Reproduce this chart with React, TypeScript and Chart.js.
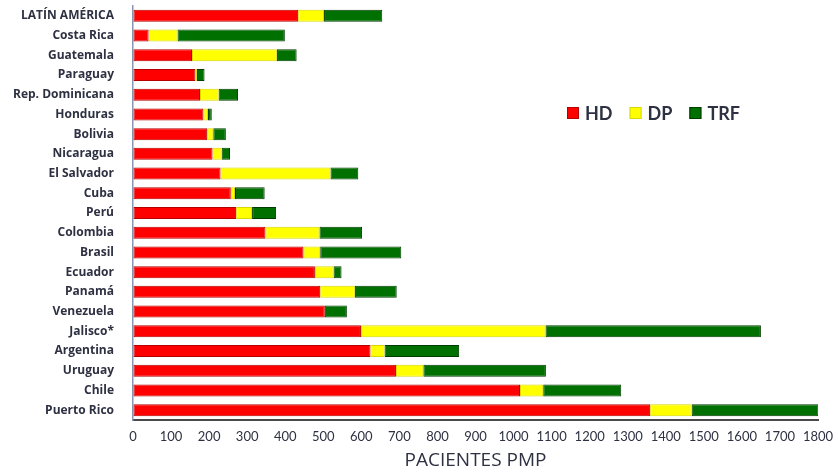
import React, { useEffect, useRef } from "react";
import { Chart, registerables } from "chart.js";

Chart.register(...registerables);

const countries = [
  "LATÍN AMÉRICA",
  "Costa Rica",
  "Guatemala",
  "Paraguay",
  "Rep. Dominicana",
  "Honduras",
  "Bolivia",
  "Nicaragua",
  "El Salvador",
  "Cuba",
  "Perú",
  "Colombia",
  "Brasil",
  "Ecuador",
  "Panamá",
  "Venezuela",
  "Jalisco*",
  "Argentina",
  "Uruguay",
  "Chile",
  "Puerto Rico",
];

// Hemodiálisis, diálisis peritoneal y trasplante renal funcionante (pacientes por millón)
const hdValues = [434, 41, 155, 164, 176, 185, 195, 209, 230, 257, 271, 348, 448, 478, 492, 504, 599, 624, 691, 1017, 1359];
const dpValues = [68, 76, 223, 4, 49, 12, 16, 24, 289, 11, 42, 142, 44, 49, 91, 0, 485, 37, 72, 61, 109];
const trfValues = [153, 282, 52, 20, 51, 10, 33, 22, 73, 78, 63, 112, 213, 21, 110, 58, 566, 196, 322, 205, 333];

const seriesNames = ["HD", "DP", "TRF"];
const xTicks = [0, 100, 200, 300, 400, 500, 600, 700, 800, 900, 1000, 1100, 1200, 1300, 1400, 1500, 1600, 1700, 1800];
const axisTitle = "PACIENTES PMP";

const textColor = "#2e3142";

// Legend drawn inside the plot, to the right of the short bars
const floatingLegend = {
  id: "floatingLegend",
  afterDraw(chart: any) {
    const ctx = chart.ctx;
    const y = 113;
    let x = 567;
    ctx.save();
    ctx.font = "bold 18px Lato";
    ctx.textBaseline = "middle";
    ctx.textAlign = "left";
    chart.data.datasets.forEach((ds: any) => {
      ctx.fillStyle = ds.backgroundColor;
      ctx.strokeStyle = ds.borderColor;
      ctx.lineWidth = 1;
      ctx.fillRect(x, y - 6, 12, 12);
      ctx.strokeRect(x + 0.5, y - 5.5, 11, 11);
      x += 18;
      ctx.fillStyle = textColor;
      ctx.fillText(ds.label, x, y + 1);
      x += ctx.measureText(ds.label).width + 17;
    });
    ctx.restore();
  },
};

export default function App() {
  const canvasRef = useRef<HTMLCanvasElement | null>(null);

  useEffect(() => {
    if (!canvasRef.current) return;
    const makeSet = (label: string, data: number[], bg: string, border: string) => ({
      label,
      data,
      backgroundColor: bg,
      borderColor: border,
      borderWidth: 1,
      borderSkipped: false,
      categoryPercentage: 1,
      barPercentage: 0.61,
    });
    const chart = new Chart(canvasRef.current, {
      type: "bar",
      data: {
        labels: countries,
        datasets: [
          makeSet(seriesNames[0], hdValues, "#ff0000", "#b40000"),
          makeSet(seriesNames[1], dpValues, "#ffff00", "#d8d800"),
          makeSet(seriesNames[2], trfValues, "#007000", "#003c00"),
        ],
      },
      options: {
        indexAxis: "y",
        animation: false,
        responsive: false,
        maintainAspectRatio: false,
        layout: { padding: { top: 6, right: 21, left: 0, bottom: 0 } },
        plugins: {
          legend: { display: false },
          tooltip: { enabled: false },
        },
        scales: {
          x: {
            stacked: true,
            min: 0,
            max: 1800,
            afterBuildTicks: (scale: any) => {
              scale.ticks = xTicks.map((v) => ({ value: v }));
            },
            afterFit: (scale: any) => {
              scale.height = 52;
              scale.paddingLeft = 0;
              scale.paddingRight = 0;
            },
            grid: { display: true, color: "transparent", drawTicks: false },
            border: { display: true, color: "#4a4a4a", width: 2 },
            ticks: {
              padding: 9,
              autoSkip: false,
              maxRotation: 0,
              color: textColor,
              font: { family: "Lato", size: 13 },
              callback: (value: any) => String(value),
            },
            title: {
              display: true,
              text: axisTitle,
              color: textColor,
              font: { family: "Open Sans", size: 19 },
              padding: { top: 6, bottom: 0 },
            },
          },
          y: {
            stacked: true,
            afterFit: (scale: any) => {
              scale.width = 133;
              scale.paddingTop = 0;
              scale.paddingBottom = 0;
            },
            grid: { display: true, color: "transparent", drawTicks: false },
            border: { display: true, color: "#8a96b0", width: 1.5 },
            ticks: {
              padding: 19,
              autoSkip: false,
              color: textColor,
              font: { family: "Open Sans", size: 12, weight: "bold" },
            },
          },
        },
      },
      plugins: [floatingLegend],
    } as any);
    return () => chart.destroy();
  }, []);

  return (
    <div style={{ position: "fixed", left: 0, top: 0, width: 839, height: 472, background: "#ffffff" }}>
      <canvas ref={canvasRef} width={839} height={472} style={{ display: "block", width: 839, height: 472 }} />
    </div>
  );
}
